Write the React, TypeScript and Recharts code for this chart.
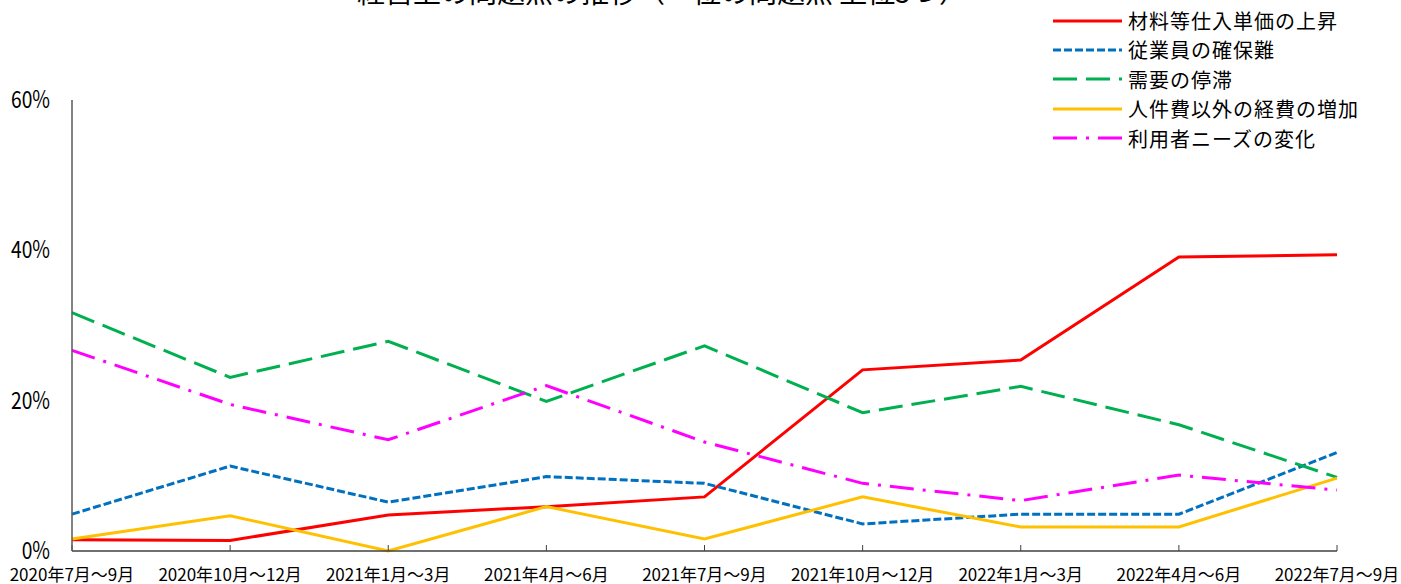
import React from 'react';
import { LineChart, Line, XAxis, YAxis, Legend } from 'recharts';

const FONT = '"Noto Sans CJK JP", "Noto Sans", sans-serif';

const categories = [
  '2020年7月～9月',
  '2020年10月～12月',
  '2021年1月～3月',
  '2021年4月～6月',
  '2021年7月～9月',
  '2021年10月～12月',
  '2022年1月～3月',
  '2022年4月～6月',
  '2022年7月～9月',
];

const materialCost = [1.5, 1.4, 4.8, 5.9, 7.2, 24.1, 25.4, 39.1, 39.4];
const laborShortage = [4.9, 11.3, 6.5, 9.9, 9.0, 3.6, 4.9, 4.9, 13.1];
const demandStagnation = [31.7, 23.1, 27.9, 19.9, 27.3, 18.4, 21.9, 16.8, 9.8];
const otherExpenses = [1.6, 4.7, 0, 5.9, 1.6, 7.2, 3.2, 3.2, 9.7];
const userNeeds = [26.7, 19.5, 14.8, 22.0, 14.5, 9.0, 6.7, 10.1, 8.1];

const yTicks = [0, 20, 40, 60];

const title = '経営上の問題点の推移（一位の問題点 上位5つ）';

const seriesDefs = [
  { key: 'material', name: '材料等仕入単価の上昇', values: materialCost, color: '#FF0000', dash: undefined as string | undefined },
  { key: 'labor', name: '従業員の確保難', values: laborShortage, color: '#0070C0', dash: '8 3' },
  { key: 'demand', name: '需要の停滞', values: demandStagnation, color: '#00B050', dash: '24 9' },
  { key: 'other', name: '人件費以外の経費の増加', values: otherExpenses, color: '#FFC000', dash: undefined as string | undefined },
  { key: 'needs', name: '利用者ニーズの変化', values: userNeeds, color: '#FF00FF', dash: '24 9 3 9' },
];

const data = categories.map((c, i) => {
  const row: Record<string, string | number> = { category: c };
  seriesDefs.forEach((s) => {
    row[s.key] = s.values[i];
  });
  return row;
});

const XTick = (props: any) => {
  const { x, y, payload } = props;
  return (
    <text x={x} y={y} dy={36} textAnchor="middle" fontSize={17} fontFamily={FONT} fill="#000">
      {payload.value}
    </text>
  );
};

const YTick = (props: any) => {
  const { x, y, payload } = props;
  return (
    <g transform={`translate(${x},${y}) scale(0.8,1)`}>
      <text x={0} y={0} dy={8} textAnchor="end" fontSize={24} fontFamily={FONT} fill="#000">
        {`${payload.value}%`}
      </text>
    </g>
  );
};

const renderLegend = () => (
  <div style={{ fontFamily: FONT }}>
    {seriesDefs.map((s) => (
      <div key={s.key} style={{ display: 'flex', alignItems: 'center', height: 29.4 }}>
        <svg width={69} height={6} style={{ display: 'block' }}>
          <line x1={0} y1={3} x2={69} y2={3} stroke={s.color} strokeWidth={3} strokeDasharray={s.dash} />
        </svg>
        <span style={{ marginLeft: 6, fontSize: 20, letterSpacing: 1, color: '#000', lineHeight: '29.4px', whiteSpace: 'nowrap' }}>
          {s.name}
        </span>
      </div>
    ))}
  </div>
);

export default function App() {
  return (
    <div style={{ position: 'absolute', left: 0, top: 0, width: 1401, height: 584, background: '#fff' }}>
      <LineChart
        width={1401}
        height={584}
        data={data}
        margin={{ top: 100, right: 64, bottom: 0, left: 0 }}
        style={{ fontFamily: FONT }}
      >
        <text x={662} y={3} textAnchor="middle" fontSize={28} fontFamily={FONT} fill="#000">
          {title}
        </text>
        <XAxis
          dataKey="category"
          height={33}
          interval={0}
          tickSize={-6}
          tickMargin={0}
          axisLine={{ stroke: '#404040', strokeWidth: 1.5 }}
          tickLine={{ stroke: '#404040', strokeWidth: 1 }}
          tick={<XTick />}
        />
        <YAxis
          width={72}
          domain={[0, 60]}
          ticks={yTicks}
          tickSize={0}
          tickMargin={22}
          axisLine={{ stroke: '#595959', strokeWidth: 1.5 }}
          tickLine={false}
          tick={<YTick />}
        />
        <Legend
          layout="horizontal"
          verticalAlign="middle"
          align="center"
          content={renderLegend}
          wrapperStyle={{ top: 6, left: 1053, width: 348, height: 150 }}
        />
        {seriesDefs.map((s) => (
          <Line
            key={s.key}
            type="linear"
            dataKey={s.key}
            name={s.name}
            stroke={s.color}
            strokeWidth={3}
            strokeDasharray={s.dash}
            dot={false}
            activeDot={false}
            isAnimationActive={false}
          />
        ))}
      </LineChart>
    </div>
  );
}
